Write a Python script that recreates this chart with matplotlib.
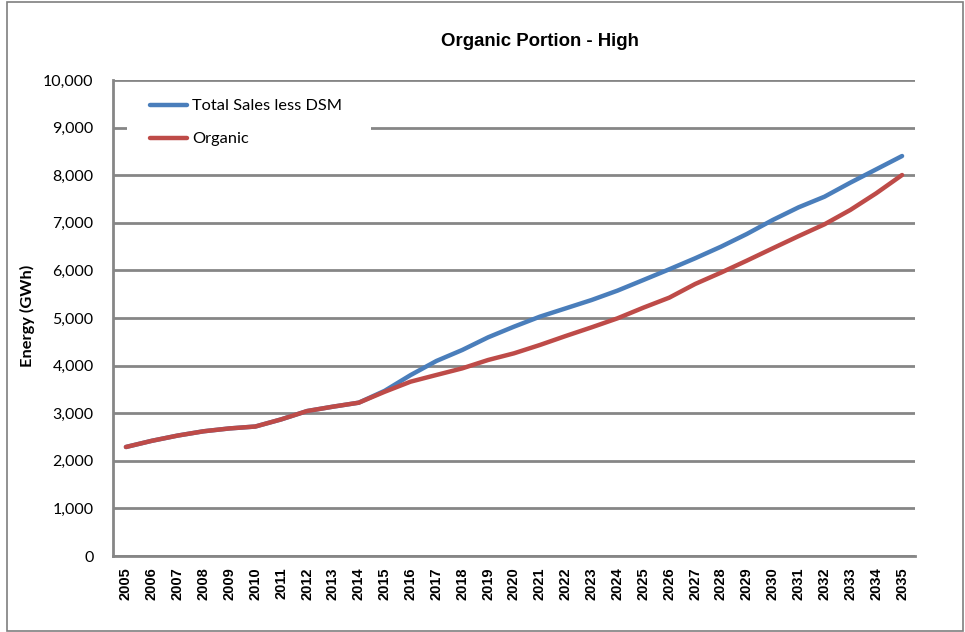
import matplotlib
matplotlib.use("Agg")
import matplotlib.pyplot as plt
from matplotlib.patches import Rectangle

years = list(range(2005, 2036))
total_sales_less_dsm = [2290, 2420, 2530, 2620, 2680, 2720, 2870, 3045, 3137, 3221, 3470,
                        3800, 4097, 4328, 4594, 4818, 5028, 5203, 5378, 5575, 5798,
                        6023, 6254, 6498, 6765, 7059, 7325, 7548, 7843, 8123, 8403]
organic = [2290, 2420, 2530, 2620, 2680, 2720, 2870, 3045, 3137, 3221, 3450,
           3662, 3803, 3942, 4118, 4258, 4433, 4622, 4804, 4993, 5217,
           5427, 5714, 5953, 6205, 6464, 6720, 6968, 7270, 7620, 8004]
yticks = list(range(0, 10001, 1000))
title = "Organic Portion - High"
ylabel = "Energy (GWh)"

W, H = 965, 632
L, R, T, B = 113, 915, 80, 556
fig = plt.figure(figsize=(W / 100, H / 100), dpi=100)
ax = fig.add_axes([L / W, 1 - B / H, (R - L) / W, (B - T) / H])


def ax_frac(px, py):
    return (px - L) / (R - L), (B - py) / (B - T)


grid_c = "#868686"
xs = list(range(len(years)))
ax.plot(xs, total_sales_less_dsm, color="#4A7EBB", lw=3.2, solid_capstyle="round",
        label="Total Sales less DSM", zorder=3)
ax.plot(xs, organic, color="#BE4B48", lw=3.2, solid_capstyle="round",
        label="Organic", zorder=4)

ax.set_xlim(-0.5, len(years) - 0.5)
ax.set_ylim(0, 10000)
ax.set_yticks(yticks)
ax.set_yticklabels([f"{v:,}" for v in yticks], fontsize=11.5, family="Lato")
ax.set_xticks(xs)
ax.set_xticklabels([str(y) for y in years], rotation=90, fontsize=10.5,
                   fontweight="bold", family="Liberation Sans")
ax.tick_params(length=0)
ax.tick_params(axis="y", pad=14)
ax.tick_params(axis="x", pad=8)
ax.yaxis.grid(True, color=grid_c, lw=2.0, zorder=1)
ax.set_axisbelow(True)
for s in ["top", "right"]:
    ax.spines[s].set_visible(False)
for s in ["left", "bottom"]:
    ax.spines[s].set_color(grid_c)
    ax.spines[s].set_linewidth(2.0)

fig.text(540 / W, 1 - 42 / H, title, ha="center", va="center", fontsize=13.4,
         fontweight="bold", family="Liberation Sans")
fig.text(27.5 / W, 1 - 316 / H, ylabel, ha="center", va="center", rotation=90,
         fontsize=11.8, fontweight="bold", family="Lato")

# white background behind the legend (interrupts the 9,000 gridline)
x0, y0 = ax_frac(126.5, 162)
x1, y1 = ax_frac(370.5, 86)
ax.add_patch(Rectangle((x0, y0), x1 - x0, y1 - y0, transform=ax.transAxes,
                       facecolor="white", edgecolor="none", zorder=2))

fs = 11.8
leg = ax.legend(loc="upper left", bbox_to_anchor=ax_frac(150, 99),
                frameon=False, prop={"family": "Lato", "size": fs},
                handlelength=2.25, handletextpad=0.3,
                borderpad=0, labelspacing=1.12, borderaxespad=0)
leg.set_zorder(5)

fig.patches.append(Rectangle((7 / W, 1 / H), (W - 9) / W, (H - 3) / H, transform=fig.transFigure,
                             fill=False, edgecolor="#7F7F7F", lw=1.2))

fig.savefig("out.png", dpi=100)
